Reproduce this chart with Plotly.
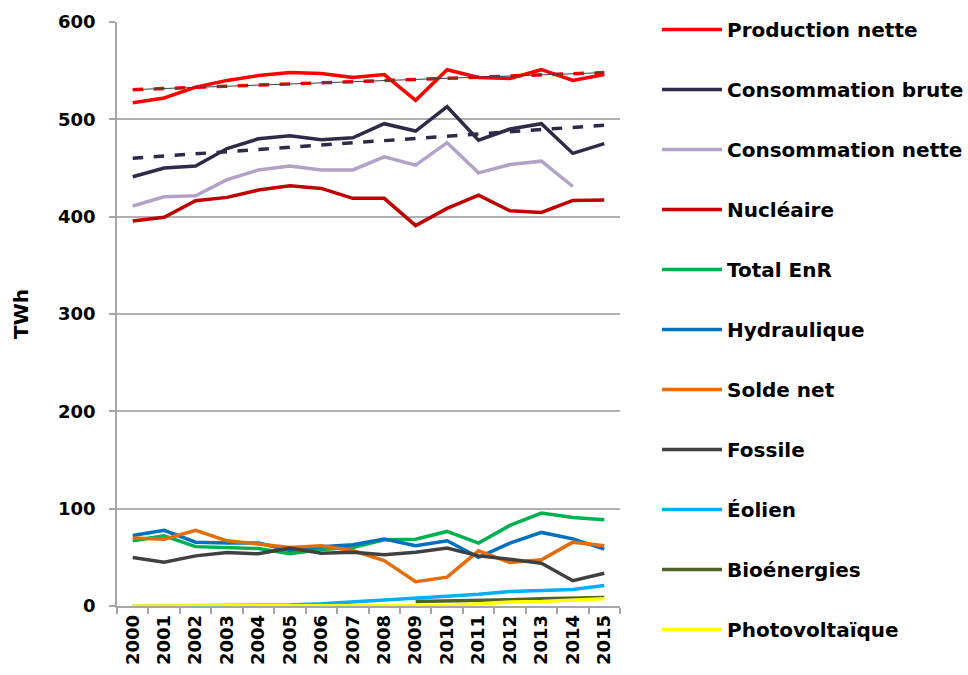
import plotly.graph_objects as go

years = [str(y) for y in range(2000, 2016)]

production_nette = [517, 522, 533, 540, 545, 548, 547, 543, 546, 519.5, 551, 543, 542, 551, 540, 546]
consommation_brute = [441, 450, 452, 470, 480, 483, 479, 481, 495.5, 488, 513, 478.5, 490, 495.5, 465, 475]
consommation_nette = [411, 420.5, 421.5, 438, 448, 452, 448, 448, 461.5, 453, 476, 445, 453.5, 457, 431, None]
nucleaire = [395.5, 399.3, 416.4, 419.8, 427.3, 431.7, 429, 418.8, 418.8, 390.8, 408.5, 422, 406, 404.4, 416.7, 417]
total_enr = [67, 72, 61, 60, 59, 53.6, 58, 60, 68, 68.7, 76.6, 64.6, 82.8, 95.5, 91, 88.7]
hydraulique = [72.5, 77.7, 65.6, 64.6, 64.6, 57, 61, 63, 68.7, 62, 67, 50, 64.6, 75.6, 69, 58.4]
solde_net = [69.8, 68.7, 77.7, 67, 63.6, 60, 62, 57, 46.7, 25, 29.6, 56.7, 44.7, 47.4, 65.6, 62]
fossile = [49.8, 45, 51.5, 55, 53.6, 59.5, 54.3, 55.3, 52.6, 55.3, 59.5, 51.5, 48, 44, 26, 33.7]
eolien = [0, 0.3, 0.3, 0.4, 0.6, 1, 2.2, 4, 5.6, 7.9, 9.9, 12, 14.9, 16, 17, 21]
bioenergies = [None, None, None, None, None, None, None, None, None, 4.5, 5, 5.5, 6.5, 7.5, 8, 8.7]
photovoltaique = [0, 0, 0, 0, 0, 0, 0, 0, 0, 0.2, 0.6, 2.4, 4, 4.6, 5.9, 7.4]

trend_years = ["2000", "2015"]
production_trend = [530.5, 548]
brute_trend = [460, 494]

series = [
    ("Production nette", production_nette, "#FF0000"),
    ("Consommation brute", consommation_brute, "#2F2A48"),
    ("Consommation nette", consommation_nette, "#B3A2C7"),
    ("Nucléaire", nucleaire, "#C00000"),
    ("Total EnR", total_enr, "#00B050"),
    ("Hydraulique", hydraulique, "#0070C0"),
    ("Solde net", solde_net, "#E46C0A"),
    ("Fossile", fossile, "#404040"),
    ("Éolien", eolien, "#00B0F0"),
    ("Bioénergies", bioenergies, "#4F6228"),
    ("Photovoltaïque", photovoltaique, "#FFFF00"),
]

FONT = "DejaVu Sans"
fig = go.Figure()

for i, (name, vals, col) in enumerate(series):
    fig.add_trace(go.Scatter(
        x=years, y=vals, name=name, mode="lines",
        line=dict(color=col, width=3.5),
        legendgroup=f"g{i}", connectgaps=False,
    ))

fig.add_trace(go.Scatter(x=trend_years, y=production_trend, mode="lines",
                         line=dict(color="#FF0000", width=3.5, dash="dash"),
                         showlegend=False, legendgroup="g0"))
fig.add_trace(go.Scatter(x=trend_years, y=production_trend, mode="lines",
                         line=dict(color="#404040", width=1),
                         showlegend=False, legendgroup="g0"))
fig.add_trace(go.Scatter(x=trend_years, y=brute_trend, mode="lines",
                         line=dict(color="#2F2A48", width=3.5, dash="dash"),
                         showlegend=False, legendgroup="g1"))

fig.update_layout(
    width=968, height=675,
    margin=dict(l=117, r=348, t=22, b=69, autoexpand=False),
    paper_bgcolor="white", plot_bgcolor="white",
    font=dict(family=FONT, color="#000000"),
    showlegend=True,
    legend=dict(
        x=1.0736, xanchor="left",
        yref="container", y=0.9852, yanchor="top",
        maxheight=675,
        font=dict(family=FONT, size=20, weight="bold", color="#000000"),
        tracegroupgap=31, bgcolor="rgba(0,0,0,0)",
        itemwidth=60,
    ),
    xaxis=dict(
        type="category", tickangle=-90, range=[-0.5, 15.5],
        tickfont=dict(family=FONT, size=18, weight="bold", color="#000000"),
        showline=True, linecolor="#A6A6A6", linewidth=1.5,
        ticks="outside", ticklen=6, tickcolor="#A6A6A6", tickwidth=1.5,
        tickson="boundaries", showgrid=False, zeroline=False,
    ),
    yaxis=dict(
        range=[0, 600], dtick=100,
        tickfont=dict(family=FONT, size=18, weight="bold", color="#000000"),
        showline=True, linecolor="#A6A6A6", linewidth=1.5,
        ticks="outside", ticklen=6, tickcolor="#A6A6A6", tickwidth=1.5,
        ticklabelstandoff=10,
        showgrid=True, gridcolor="#B0B0B0", gridwidth=1.5,
        zeroline=False,
        title=dict(text="TWh", font=dict(family=FONT, size=20, weight="bold", color="#000000"), standoff=24),
    ),
)

fig.write_html(
    "out.html",
    config={"displayModeBar": False},
    post_script="document.body.style.margin='0';document.body.style.overflow='hidden';",
)
